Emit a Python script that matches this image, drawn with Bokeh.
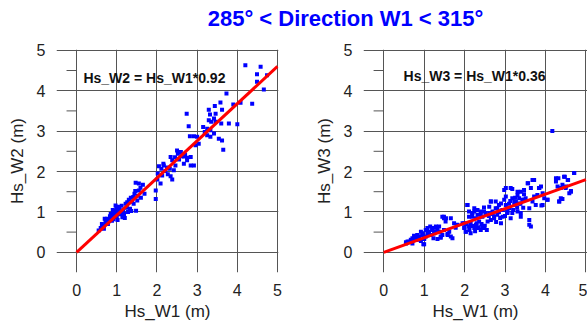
from bokeh.plotting import figure
from bokeh.layouts import column, row
from bokeh.models import Range1d, FixedTicker, Label
from bokeh.embed import file_html
from bokeh.resources import INLINE

title_text = "285° < Direction W1 < 315°"
ticks = [0, 1, 2, 3, 4, 5]
minor_ticks = [0.5, 1.5, 2.5, 3.5, 4.5]
fit_x = [0, 5]
slope_w2 = 0.92
slope_w3 = 0.36
eq_w2 = "Hs_W2 = Hs_W1*0.92"
eq_w3 = "Hs_W3 = Hs_W1*0.36"

# Left panel: Hs_W1 vs Hs_W2
w1_a = [0.55, 0.60, 0.66, 0.72, 0.70, 0.76, 0.80, 0.83, 0.86, 0.89, 0.93, 0.95, 0.97, 0.99, 1.01,
        1.03, 1.05, 1.08, 1.11, 1.14, 1.18, 1.22, 1.26, 1.30, 1.33, 1.36, 1.41, 1.44, 1.48, 1.51,
        1.47, 1.55, 1.55, 1.59, 1.65, 1.69,
        0.63, 0.68, 0.78, 0.82, 0.88, 0.90, 0.92, 0.96, 1.00, 1.02, 1.06, 1.10, 1.12, 1.16, 1.20,
        0.85, 0.75, 0.98, 1.25, 1.38, 1.46, 1.52, 1.28, 1.42, 1.60, 1.35,
        1.97, 1.97, 2.01, 2.09, 2.05, 2.11, 2.17, 2.21, 2.27, 2.34, 2.38, 2.42, 2.32, 2.46, 2.52,
        2.59, 2.67, 2.75, 2.84, 2.92, 2.38, 2.34, 2.16, 2.02, 2.13, 2.25, 2.55, 2.62, 2.70, 2.45,
        2.50, 2.67, 2.75, 2.84, 2.59, 2.74, 2.79, 2.82, 2.92, 3.00, 3.04, 2.96, 3.15, 3.25, 3.19,
        3.33, 3.42, 3.25, 3.33, 3.54, 3.62, 3.65, 3.29, 3.35, 3.46, 3.42, 3.32, 3.46, 3.29, 3.62,
        3.44, 3.58, 3.79, 3.60, 4.00, 3.90, 4.08, 3.73, 4.37, 4.20, 4.58, 4.49, 4.74, 4.49, 4.66]
w2 = [0.54, 0.60, 0.66, 0.75, 0.83, 0.83, 0.77, 0.89, 0.83, 0.91, 0.99, 0.87, 1.16, 1.08, 1.13,
      0.99, 1.05, 0.94, 1.04, 0.87, 0.95, 1.20, 1.24, 1.30, 1.08, 1.02, 1.37, 1.45, 1.03, 1.28,
      1.72, 1.70, 1.53, 1.60, 1.67, 1.45,
      0.70, 0.58, 0.70, 0.80, 0.78, 1.05, 0.82, 0.95, 0.90, 0.80, 1.12, 0.95, 1.15, 1.02, 0.85,
      0.95, 0.78, 1.02, 1.10, 1.25, 1.52, 1.40, 1.00, 1.20, 1.35, 1.35,
      1.53, 1.32, 1.80, 1.70, 2.13, 2.07, 2.15, 2.01, 1.93, 1.88, 1.80, 2.03, 2.07, 2.15, 2.44,
      2.48, 2.19, 2.28, 2.15, 2.15, 2.28, 2.36, 2.19, 1.95, 1.90, 2.10, 2.30, 2.38, 2.42, 2.35,
      2.52, 2.37, 2.34, 2.36, 2.48, 3.43, 3.12, 2.87, 2.87, 2.86, 2.69, 2.65, 3.10, 3.06, 2.98,
      3.02, 2.94, 2.90, 2.86, 2.81, 2.77, 2.54, 3.27, 3.23, 3.23, 3.31, 3.41, 3.43, 3.53, 3.53,
      3.62, 3.71, 3.19, 3.19, 3.17, 3.66, 3.70, 3.93, 3.68, 4.63, 4.59, 4.41, 4.38, 4.22, 4.03]

# Right panel: Hs_W1 vs Hs_W3
w1_b = [0.55, 0.59, 0.67, 0.71, 0.75, 0.79, 0.83, 0.88, 0.92, 0.96, 1.00, 1.00, 1.04, 1.08, 1.12,
        1.16, 1.20, 1.25, 1.29, 1.33, 1.37, 1.41, 1.45, 1.49, 1.49, 1.54, 1.58, 1.62, 1.66, 1.74,
        1.78, 1.99, 2.03, 2.07, 2.11, 2.15, 2.19, 2.24, 2.28, 2.32, 2.36, 2.40, 2.44, 2.48, 2.52,
        2.57, 2.61, 2.65, 2.69, 2.73, 2.77, 2.81, 2.85, 2.90, 2.94, 2.98, 3.02, 3.06, 3.10, 3.14,
        3.18, 3.23, 3.27, 3.31, 3.35, 3.39, 3.43, 3.47, 3.51, 3.56, 3.60, 3.64, 3.68, 3.72, 3.80,
        3.85, 3.89, 3.93, 3.97, 4.05, 4.26, 4.30, 4.34, 4.38, 4.42, 4.46, 4.50, 4.55, 4.59, 4.63,
        4.71,
        0.55, 0.63, 0.71, 0.75, 0.79, 0.83, 0.87, 0.92, 0.96, 0.98, 1.00, 1.04, 1.08, 1.12, 1.15,
        1.20, 1.23, 1.25, 1.29, 1.33, 1.37, 1.41, 1.45, 1.49, 1.53, 1.58, 1.66, 1.70, 1.82, 1.95,
        1.99, 2.03, 2.07, 2.11, 2.11, 2.15, 2.19, 2.24, 2.28, 2.32, 2.40, 2.44, 2.48,
        4.17, 4.71, 4.48, 4.56, 4.32, 4.26, 3.72, 3.57, 3.64, 3.39, 3.18, 2.98, 3.31, 3.47, 3.84,
        3.93, 4.38, 4.51, 4.63, 4.34, 4.42, 4.05, 3.68, 3.76, 3.90, 3.60, 3.47, 3.35, 3.23, 3.13,
        3.02, 3.02, 2.90, 2.77, 2.65, 2.81, 2.94, 3.06, 3.18, 3.31, 3.39, 3.60, 3.14, 2.94, 2.48,
        2.40, 2.61, 2.32, 2.24, 2.19, 2.73,
        2.00, 2.05, 2.12, 2.20, 2.26, 2.30, 2.35, 2.42, 2.50, 2.55, 2.60, 2.65, 2.70, 2.78, 2.85,
        2.88, 3.00, 3.05, 3.10, 3.20, 3.25, 3.30, 3.38, 3.45]
w3 = [0.25, 0.27, 0.31, 0.22, 0.33, 0.36, 0.31, 0.39, 0.28, 0.43, 0.33, 0.20, 0.39, 0.47, 0.51,
      0.43, 0.55, 0.47, 0.61, 0.33, 0.51, 0.36, 0.43, 0.55, 0.88, 0.84, 0.45, 0.51, 0.39, 0.72,
      0.61, 0.72, 0.51, 1.17, 0.88, 0.72, 0.97, 0.60, 0.84, 1.05, 0.76, 0.55, 0.88, 0.60, 0.97,
      0.76, 1.13, 1.26, 1.01, 0.84, 1.09, 0.93, 1.17, 0.72, 1.05, 1.30, 1.59, 0.97, 1.09, 1.59,
      1.34, 1.17, 1.26, 1.50, 1.34, 0.97, 1.30, 1.54, 1.34, 1.71, 0.68, 0.64, 1.79, 1.38, 1.42,
      1.59, 1.63, 1.17, 1.34, 1.30, 1.83, 1.63, 1.26, 1.34, 1.67, 1.87, 1.59, 1.79, 1.46, 1.52,
      1.96,
      0.22, 0.26, 0.35, 0.41, 0.31, 0.43, 0.39, 0.51, 0.47, 0.20, 0.35, 0.55, 0.60, 0.50, 0.64,
      0.60, 0.35, 0.51, 0.64, 0.55, 0.64, 0.39, 0.88, 0.84, 0.76, 0.43, 0.84, 0.35, 0.68, 0.72,
      0.60, 0.51, 1.17, 1.01, 0.64, 0.47, 0.88, 1.01, 0.68, 0.60, 0.93, 0.60, 1.01,
      3.00, 1.96, 1.87, 1.79, 1.83, 1.75, 1.79, 1.71, 1.59, 1.50, 1.57, 1.54, 1.42, 1.44, 1.59,
      1.46, 1.59, 1.63, 1.50, 1.26, 1.32, 1.30, 1.26, 1.17, 1.16, 1.09, 1.30, 1.21, 1.26, 1.27,
      1.38, 1.17, 1.21, 1.26, 1.26, 1.09, 1.05, 1.01, 0.97, 1.01, 0.88, 0.80, 0.84, 0.88, 1.11,
      1.01, 0.97, 0.93, 1.09, 0.97, 0.88,
      0.62, 0.70, 0.55, 0.65, 0.52, 0.72, 0.62, 0.70, 0.66, 0.55, 0.90, 0.80, 0.95, 0.75, 1.00,
      0.85, 0.90, 1.10, 1.20, 1.05, 1.35, 1.10, 1.20, 1.10]

FONT = "Liberation Sans"
GRID = "#555555"
TEXT = "#222222"


def make_panel(xs, ys, slope, xlabel, ylabel, eq_text, eq_x, eq_y, xmax, fw, bl, br):
    p = figure(frame_width=fw, frame_height=223,
               x_range=Range1d(-0.5, xmax), y_range=Range1d(-0.5, 5.02),
               toolbar_location=None, output_backend="svg",
               min_border_left=bl, min_border_right=br,
               min_border_top=14, min_border_bottom=49,
               outline_line_color=None)
    for ax in (p.xaxis[0], p.yaxis[0]):
        ax.ticker = FixedTicker(ticks=ticks)
        ax.axis_line_color = None
        ax.major_tick_line_color = None
        ax.minor_tick_line_color = None
        ax.major_tick_out = 0
        ax.major_tick_in = 0
        ax.major_label_standoff = 11
        ax.major_label_text_font_size = "16px"
        ax.major_label_text_font = FONT
        ax.major_label_text_color = TEXT
        ax.axis_label_text_font_size = "17px"
        ax.axis_label_text_font = FONT
        ax.axis_label_text_font_style = "normal"
        ax.axis_label_text_color = TEXT
    p.xaxis.axis_label = xlabel
    p.yaxis.axis_label = ylabel
    p.xaxis.axis_label_standoff = 3
    p.yaxis.axis_label_standoff = 7
    p.xgrid.ticker = FixedTicker(ticks=ticks)
    p.ygrid.ticker = FixedTicker(ticks=ticks)
    p.grid.grid_line_color = GRID
    p.grid.grid_line_width = 1
    p.segment(x0=-0.25, y0=minor_ticks, x1=0, y1=minor_ticks,
              line_color=GRID, line_width=1)
    p.scatter(xs, ys, marker="square", size=4, fill_color="#0000FF", line_color=None)
    p.line(fit_x, [slope * x for x in fit_x], line_color="#FF0000", line_width=3)
    p.add_layout(Label(x=eq_x, y=eq_y, text=eq_text, text_font=FONT,
                       text_font_size="14px", text_font_style="bold",
                       text_color="#111111", text_baseline="middle"))
    return p


p1 = make_panel(w1_a, w2, slope_w2, "Hs_W1 (m)", "Hs_W2 (m)", eq_w2, 0.17, 4.32,
                5.025, 222, 56, 12)
p2 = make_panel(w1_b, w3, slope_w3, "Hs_W1 (m)", "Hs_W3 (m)", eq_w3, 0.49, 4.37,
                5.04, 224, 73, 0)

tfig = figure(width=587, height=35, toolbar_location=None, output_backend="svg",
              x_range=Range1d(0, 1), y_range=Range1d(0, 1),
              min_border_left=103, min_border_right=0, min_border_top=0,
              min_border_bottom=0, outline_line_color=None)
tfig.axis.visible = False
tfig.grid.visible = False
tfig.title.text = title_text
tfig.title.align = "center"
tfig.title.text_font = FONT
tfig.title.text_font_size = "22px"
tfig.title.text_font_style = "bold"
tfig.title.text_color = "#0000FF"

layout = column(tfig, row(p1, p2))
open("out.html", "w").write(file_html(layout, INLINE))
